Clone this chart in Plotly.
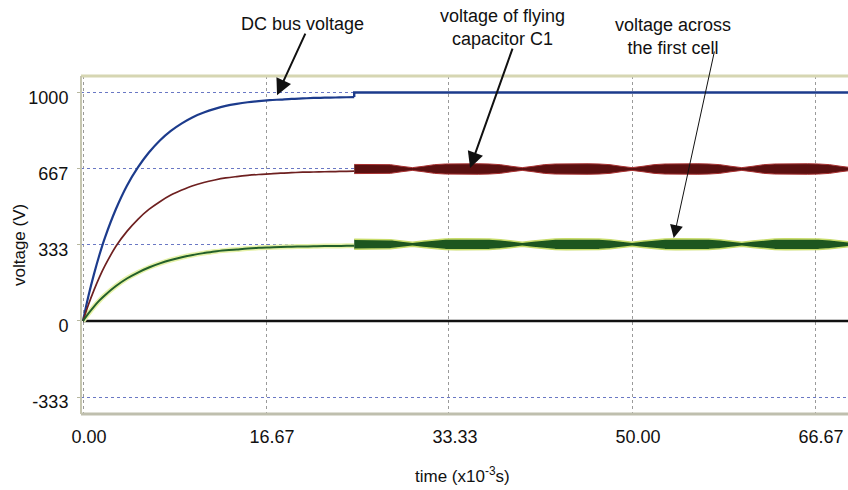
import plotly.graph_objects as go

# ---------------- data ----------------
t_charge = [0, 0.5, 1, 1.5, 2, 3, 4, 5, 6, 7, 8, 9, 10, 11, 12, 13, 14, 15,
            16, 17, 18, 19, 20, 21, 22, 23, 24, 24.7]
dc_charge = [0, 110, 205, 290, 365, 490, 592, 672, 737, 790, 832, 865, 892,
             912, 928, 941, 950, 957, 962, 966, 969, 972, 974, 976, 977, 978,
             979, 980]
c1_charge = [0, 72, 135, 192, 242, 327, 392, 445, 488, 522, 551, 573, 592,
             606, 617, 626, 632, 637, 641, 644, 647, 649, 651, 652, 653, 654,
             655, 656]
cell_charge = [0, 33, 63, 90, 113, 153, 186, 212, 234, 252, 267, 279, 289,
               297, 304, 309, 313, 317, 320, 322, 324, 325, 326, 327, 328, 328,
               329, 329]

t_dc_flat = [24.7, 24.7, 70]
dc_flat = [980, 1000, 1000]

t_band = [24.7, 25, 26, 27, 28, 29, 30, 31, 32, 33, 34, 35, 36, 37, 38, 39,
          40, 41, 42, 43, 44, 45, 46, 47, 48, 49, 50, 51, 52, 53, 54, 55, 56,
          57, 58, 59, 60, 61, 62, 63, 64, 65, 66, 67, 68, 69, 70]
c1_center = 665
c1_halfwidth = [20, 20, 22, 22, 19, 12, 6, 12, 19, 22, 23, 23, 23, 22, 19, 12,
                6, 12, 19, 22, 23, 23, 23, 22, 19, 12, 6, 12, 19, 22, 23, 23,
                23, 22, 19, 12, 6, 12, 19, 22, 23, 23, 23, 22, 19, 12, 6]
cell_center = 336
cell_halfwidth = [22, 22, 23, 23, 20, 14, 9, 14, 20, 23, 24, 24, 24, 23, 20,
                  14, 9, 14, 20, 23, 24, 24, 24, 23, 20, 14, 9, 14, 20, 23,
                  24, 24, 24, 23, 20, 14, 9, 14, 20, 23, 24, 24, 24, 23, 20,
                  14, 9]

t_zero = [0, 70]
zero_v = [0, 0]

x_ticks = [0, 16.67, 33.33, 50.00, 66.67]
x_tick_text = ["0.00", "16.67", "33.33", "50.00", "66.67"]
y_ticks = [-333, 0, 333, 667, 1000]
y_tick_text = ["-333", "0", "333", "667", "1000"]

# ---------------- figure ----------------
FONT = "Liberation Sans"
W, H = 848, 490
ML, MT, MR, MB = 81, 76, 0, 76
PW, PH = W - ML - MR, H - MT - MB


def px_to_paper(px, py):
    return (px - ML) / PW, (H - MB - py) / PH


fig = go.Figure()

c1_up = [c1_center + h for h in c1_halfwidth]
c1_lo = [c1_center - h for h in c1_halfwidth]
cell_up = [cell_center + h for h in cell_halfwidth]
cell_lo = [cell_center - h for h in cell_halfwidth]

# zero line
fig.add_trace(go.Scatter(x=t_zero, y=zero_v, mode="lines",
                         line=dict(color="#111111", width=2.5)))

# halo under the first-cell curve
fig.add_trace(go.Scatter(x=t_charge, y=cell_charge, mode="lines",
                         line=dict(color="#e6f2a8", width=5, shape="spline")))

# charging curves
fig.add_trace(go.Scatter(x=t_charge, y=dc_charge, mode="lines",
                         line=dict(color="#1c3b8c", width=2.2, shape="spline")))
fig.add_trace(go.Scatter(x=t_dc_flat, y=dc_flat, mode="lines",
                         line=dict(color="#1c3b8c", width=2.4)))
fig.add_trace(go.Scatter(x=t_charge, y=c1_charge, mode="lines",
                         line=dict(color="#6e2020", width=1.7, shape="spline")))
fig.add_trace(go.Scatter(x=t_charge, y=cell_charge, mode="lines",
                         line=dict(color="#23602a", width=2, shape="spline")))

# ripple bands
fig.add_trace(go.Scatter(x=t_band, y=c1_up, mode="lines",
                         line=dict(color="#a83030", width=1)))
fig.add_trace(go.Scatter(x=t_band, y=c1_lo, mode="lines", fill="tonexty",
                         fillcolor="#5a1010",
                         line=dict(color="#a83030", width=1)))
fig.add_trace(go.Scatter(x=t_band, y=cell_up, mode="lines",
                         line=dict(color="#c8dc6a", width=1.5)))
fig.add_trace(go.Scatter(x=t_band, y=cell_lo, mode="lines", fill="tonexty",
                         fillcolor="#1d561f",
                         line=dict(color="#c8dc6a", width=1.5)))

# frame lines (top, bottom, left)
fig.add_shape(type="line", xref="paper", yref="paper", x0=0, x1=1, y0=1, y1=1,
              line=dict(color="#d6d6b2", width=3))
fig.add_shape(type="line", xref="paper", yref="paper", x0=0, x1=1, y0=0, y1=0,
              line=dict(color="#bfbfae", width=3))
fig.add_shape(type="line", xref="paper", yref="paper", x0=0, x1=0, y0=0, y1=1,
              line=dict(color="#c6c6b0", width=2))

annotations = []
# labels
for text, px, py in [("DC bus voltage", 302, 24),
                     ("voltage of flying<br>capacitor C1", 502, 27),
                     ("voltage across<br>the first cell", 673, 37)]:
    xp, yp = px_to_paper(px, py)
    annotations.append(dict(text=text, x=xp, y=yp, xref="paper", yref="paper",
                            showarrow=False, xanchor="center", yanchor="middle",
                            font=dict(family=FONT, size=18, color="#111111")))

# arrows (tip in data coords, tail offset in px)
for tx, ty, ax, ay, wdt, size in [(17.67, 988, 29, -63, 2, 1.6),
                                  (35.25, 669, 43, -121, 2, 1.6),
                                  (53.8, 363, 41, -188, 1, 2.6)]:
    annotations.append(dict(x=tx, y=ty, xref="x", yref="y", text="",
                            showarrow=True, ax=ax, ay=ay, arrowhead=2,
                            arrowsize=size, arrowwidth=wdt,
                            arrowcolor="#111111", standoff=0))

# axis titles
xp, yp = px_to_paper(19, 245)
annotations.append(dict(text="voltage (V)", x=xp, y=yp, xref="paper",
                        yref="paper", showarrow=False, textangle=-90,
                        xanchor="center", yanchor="middle",
                        font=dict(family=FONT, size=17, color="#111111")))
xp, yp = px_to_paper(462, 475)
annotations.append(dict(text="time (x10<sup>-3</sup>s)", x=xp, y=yp,
                        xref="paper", yref="paper", showarrow=False,
                        xanchor="center", yanchor="middle",
                        font=dict(family=FONT, size=17, color="#111111")))

x_lo = -(83 - ML) / 10.98
x_hi = x_lo + PW / 10.98

fig.update_layout(
    width=W, height=H,
    margin=dict(l=ML, r=MR, t=MT, b=MB, pad=0),
    paper_bgcolor="white", plot_bgcolor="white",
    showlegend=False,
    annotations=annotations,
    font=dict(family=FONT, size=17, color="#111111"),
    xaxis=dict(range=[x_lo, x_hi], tickvals=x_ticks, ticktext=x_tick_text,
               showgrid=True, gridcolor="#9a9a9a", griddash="dot",
               gridwidth=1, zeroline=False, showline=False, ticks="",
               ticklabelstandoff=10, ticklabelshift=6,
               tickfont=dict(family=FONT, size=18, color="#111111")),
    yaxis=dict(range=[-407, 1072], tickvals=y_ticks, ticktext=y_tick_text,
               showgrid=True, gridcolor="#6a78c4", griddash="dot",
               gridwidth=1, zeroline=False, showline=False,
               ticks="outside", ticklen=3, tickcolor="#b8b8a0",
               ticklabelstandoff=5, ticklabelshift=5,
               tickfont=dict(family=FONT, size=18, color="#111111")),
)

fig.write_html("out.html")
